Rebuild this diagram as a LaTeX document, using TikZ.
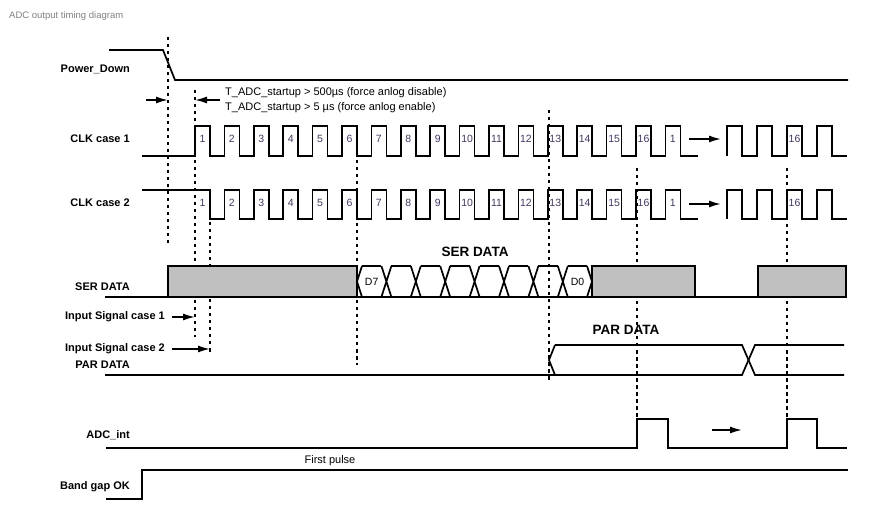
\documentclass[tikz,border=0pt]{standalone}
\usepackage{fontspec}
\setmainfont{Liberation Sans}
\usepackage{xcolor}
\usetikzlibrary{arrows.meta}

\definecolor{numcol}{RGB}{70,55,95}
\definecolor{boxgray}{RGB}{192,192,192}
\tikzset{
  sig/.style={line width=1.7pt},
  guide/.style={line width=1.6pt, dash pattern=on 3.5pt off 3.5pt},
  arr/.style={line width=1.6pt, -{Latex[length=12pt,width=7pt]}},
  lbl/.style={anchor=east, inner sep=0pt, font=\bfseries\fontsize{11}{13}\selectfont},
  num/.style={inner sep=0pt, font=\fontsize{10.5}{12}\selectfont, text=numcol},
  big/.style={inner sep=0pt, font=\bfseries\fontsize{13.5}{15}\selectfont},
  txt/.style={inner sep=0pt, font=\fontsize{11}{13}\selectfont}
}

\begin{document}
\begin{tikzpicture}[x=1pt, y=-1pt]
\useasboundingbox (0,0) rectangle (891,518);

\node[anchor=west, inner sep=0pt, text=gray, font=\fontsize{9.5}{11}\selectfont] (title) at (9,16) {ADC output timing diagram};

\node[lbl] (pd) at (130,69) {Power\_Down};
\node[lbl] (clk1) at (130,139) {CLK case 1};
\node[lbl] (clk2) at (130,203) {CLK case 2};
\node[lbl] (ser) at (130,287) {SER DATA};
\node[lbl] (is1) at (165,317) {Input Signal case 1};
\node[lbl] (is2) at (165,349) {Input Signal case 2};
\node[lbl] (par) at (130,365) {PAR DATA};
\node[lbl] (adc) at (130,435) {ADC\_int};
\node[lbl] (bg) at (130,487) {Band gap OK};

\node[txt, anchor=west] (tadc1) at (225,93) {T\_ADC\_startup > 500µs (force anlog disable)};
\node[txt, anchor=west] (tadc2) at (225,108) {T\_ADC\_startup > 5 µs (force anlog enable)};
\node[big] (sertitle) at (475,252) {SER DATA};
\node[big] (partitle) at (626,330) {PAR DATA};
\node[txt] (first) at (330,461) {First pulse};

\coordinate (g0) at (168,0);
\coordinate (g1) at (195,0);
\coordinate (g2) at (210,0);
\coordinate (pwl) at (146,100);
\coordinate (pwr) at (220,100);

% guides
\draw[guide] (168,37) -- (168,243);
\draw[guide] (195,90) -- (195,337);
\draw[guide] (210,222) -- (210,355);
\draw[guide] (357,160) -- (357,365);
\draw[guide] (549,110) -- (549,382);
\draw[guide] (637,168) -- (637,448);
\draw[guide] (787,168) -- (787,448);

\draw[arr] (pwl) -- (pwl -| g0);
\draw[arr] (pwr) -- (pwr -| g1);
\draw[arr] ([xshift=7pt]is1.east) -- (is1.east -| g1);
\draw[arr] ([xshift=7pt]is2.east) -- (is2.east -| g2);

% power down
\draw[sig] (109,50) -- (163,50) -- (175,80) -- (848,80);

% clocks
\draw[sig] (142,156) foreach \n in {0,...,16}{ -- ({195+29.4*\n},156) -- ++(0,-30) -- ++(15,0) -- ++(0,30)} -- (698,156);
\draw[sig] (142,190) -- (210,190) -- (210,219) foreach \n in {1,...,16}{ -- ({195+29.4*\n},219) -- ++(0,-29) -- ++(15,0) -- ++(0,29)} -- (698,219);
\draw[sig] (727,156) foreach \n in {0,...,3}{ -- ({727+30*\n},156) -- ++(0,-30) -- ++(15,0) -- ++(0,30)} -- (847,156);
\draw[sig] (727,219) foreach \n in {0,...,3}{ -- ({727+30*\n},219) -- ++(0,-29) -- ++(15,0) -- ++(0,29)} -- (847,219);
\foreach \n in {1,...,16}{
  \node[num] (ca\n) at ({202.5+29.4*(\n-1)},139) {\n};
  \node[num] (cb\n) at ({202.5+29.4*(\n-1)},203) {\n};
}
\node[num] (ca17) at (672.9,139) {1};
\node[num] (cb17) at (672.9,203) {1};
\node[num] (ca18) at (794.5,139) {16};
\node[num] (cb18) at (794.5,203) {16};
\coordinate (ka) at (689,139);
\coordinate (kb) at (689,204);
\draw[arr] (ka) -- ++(32,0);
\draw[arr] (kb) -- ++(32,0);

% ser data
\draw[sig] (105,297) -- (846,297);
\draw[sig, fill=boxgray] (168,297) rectangle (357,266);
\draw[sig, fill=boxgray] (592,297) rectangle (695,266);
\draw[sig, fill=boxgray] (758,297) rectangle (846,266);
\draw[sig] (362,266) -- (357,281.5) -- (362,297);
\draw[sig] (587,266) -- (592,281.5) -- (587,297);
\foreach \k in {1,...,7}
  \draw[sig] ({357+29.4*\k-5},266) -- ({357+29.4*\k+5},297) ({357+29.4*\k-5},297) -- ({357+29.4*\k+5},266);
\foreach \k in {0,...,7}
  \draw[sig] ({362+29.4*\k},266) -- ({352+29.4*(\k+1)},266);
\node[num, text=black] (d7) at (371.7,281.5) {D7};
\node[num, text=black] (d0) at (577.5,281.5) {D0};

% par data
\draw[sig] (105,375) -- (742,375) -- (755,345) -- (844,345);
\draw[sig] (555,345) -- (549,360) -- (555,375);
\draw[sig] (555,345) -- (742,345) -- (755,375) -- (844,375);

% adc int
\draw[sig] (106,448) -- (637,448) -- (637,419) -- (668,419) -- (668,448) -- (787,448) -- (787,419) -- (817,419) -- (817,448) -- (847,448);
\coordinate (ia) at (712,430);
\draw[arr] (ia) -- ++(30,0);

% band gap
\draw[sig] (106,499) -- (142,499) -- (142,470) -- (848,470);
\end{tikzpicture}
\end{document}
